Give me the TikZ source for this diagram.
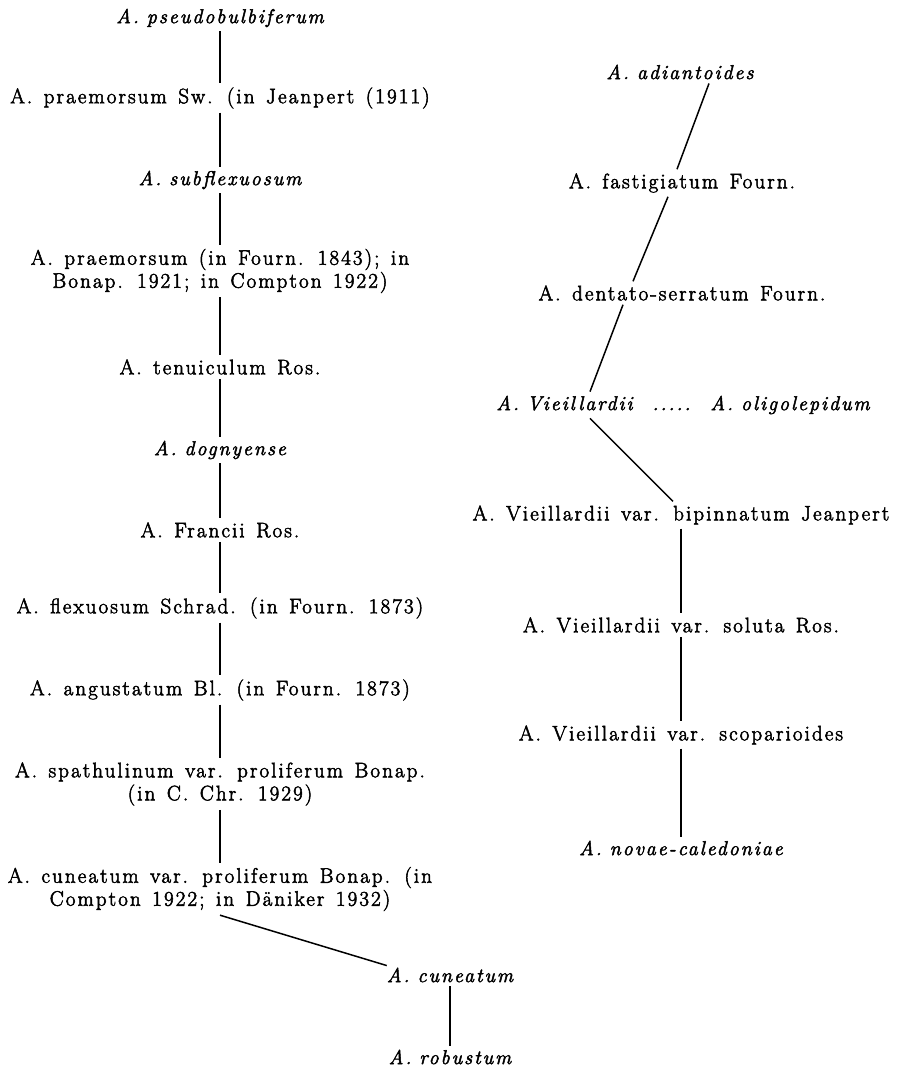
\documentclass[tikz,border=0pt]{standalone}
\usepackage{fontspec}
\setmainfont{Latin Modern Roman}[LetterSpace=10, FakeBold=2.5]
\usetikzlibrary{calc}
\newcommand{\taxfont}{\fontsize{21}{23}\selectfont\spaceskip=0.55em plus 0.1em minus 0.05em\relax}
\newcommand{\taxitfont}{\fontsize{20}{23}\selectfont\itshape\spaceskip=0.4em plus 0.1em minus 0.05em\relax}
\tikzset{
  taxon/.style={inner xsep=0pt, inner ysep=4pt, align=center, font=\taxfont},
  itaxon/.style={taxon, font=\taxitfont},
  link/.style={line width=1.5pt, black}
}
\begin{document}
\begin{tikzpicture}[x=1pt,y=-1pt]
\useasboundingbox (0,0) rectangle (902,1066);
% left column
\node[itaxon] (n1) at (220,18) {A. pseudobulbiferum};
\node[taxon] (n2) at (220,98) {A. praemorsum Sw. (in Jeanpert (1911)};
\node[itaxon] (n3) at (220,180) {A. subflexuosum};
\node[taxon] (n4) at (220,271) {A. praemorsum (in Fourn. 1843); in\\Bonap. 1921; in Compton 1922)};
\node[taxon] (n5) at (220,367) {A. tenuiculum Ros.};
\node[itaxon] (n6) at (220,450) {A. dognyense};
\node[taxon] (n7) at (220,530) {A. Francii Ros.};
\node[taxon] (n8) at (220,608) {A. flexuosum Schrad. (in Fourn. 1873)};
\node[taxon] (n9) at (220,690) {A. angustatum Bl. (in Fourn. 1873)};
\node[taxon] (n10) at (220,784) {A. spathulinum var. proliferum Bonap.\\(in C. Chr. 1929)};
\node[taxon] (n11) at (220,889) {A. cuneatum var. proliferum Bonap. (in\\Compton 1922; in Däniker 1932)};
\node[itaxon] (n12) at (450,975) {A. cuneatum};
\node[itaxon] (n13) at (450,1057) {A. robustum};
% right column
\node[itaxon] (r1) at (680,72) {A. adiantoides};
\node[taxon] (r2) at (682,183) {A. fastigiatum Fourn.};
\node[taxon] (r3) at (682,293) {A. dentato-serratum Fourn.};
\node[itaxon] (r4) at (683,405) {A. Vieillardii\hspace{1em}.....\hspace{1em}A. oligolepidum};
\node[taxon] (r5) at (681,515) {A. Vieillardii var. bipinnatum Jeanpert};
\node[taxon] (r6) at (681,625) {A. Vieillardii var. soluta Ros.};
\node[taxon] (r7) at (681,735) {A. Vieillardii var. scoparioides};
\node[itaxon] (r8) at (681,848) {A. novae-caledoniae};
% connectors left
\draw[link] (n1.south) -- (n2.north);
\draw[link] (n2.south) -- (n3.north);
\draw[link] (n3.south) -- (n4.north);
\draw[link] (n4.south) -- (n5.north);
\draw[link] (n5.south) -- (n6.north);
\draw[link] (n6.south) -- (n7.north);
\draw[link] (n7.south) -- (n8.north);
\draw[link] (n8.south) -- (n9.north);
\draw[link] (n9.south) -- (n10.north);
\draw[link] (n10.south) -- (n11.north);
\draw[link] (n11.south) -- ([yshift=-2pt]n12.north west);
\draw[link] (n12.south) -- (n13.north);
% connectors right
\draw[link] ([xshift=29pt]r1.south) -- ([xshift=-5pt]r2.north);
\draw[link] ([xshift=-14pt]r2.south) -- ([xshift=-49pt]r3.north);
\draw[link] ([xshift=-59pt]r3.south) -- ([xshift=-93pt]r4.north);
\draw[link] ([xshift=-93pt]r4.south) -- ([xshift=-8pt]r5.north);
\draw[link] (r5.south) -- (r6.north);
\draw[link] (r6.south) -- (r7.north);
\draw[link] (r7.south) -- (r8.north);
\end{tikzpicture}
\end{document}
